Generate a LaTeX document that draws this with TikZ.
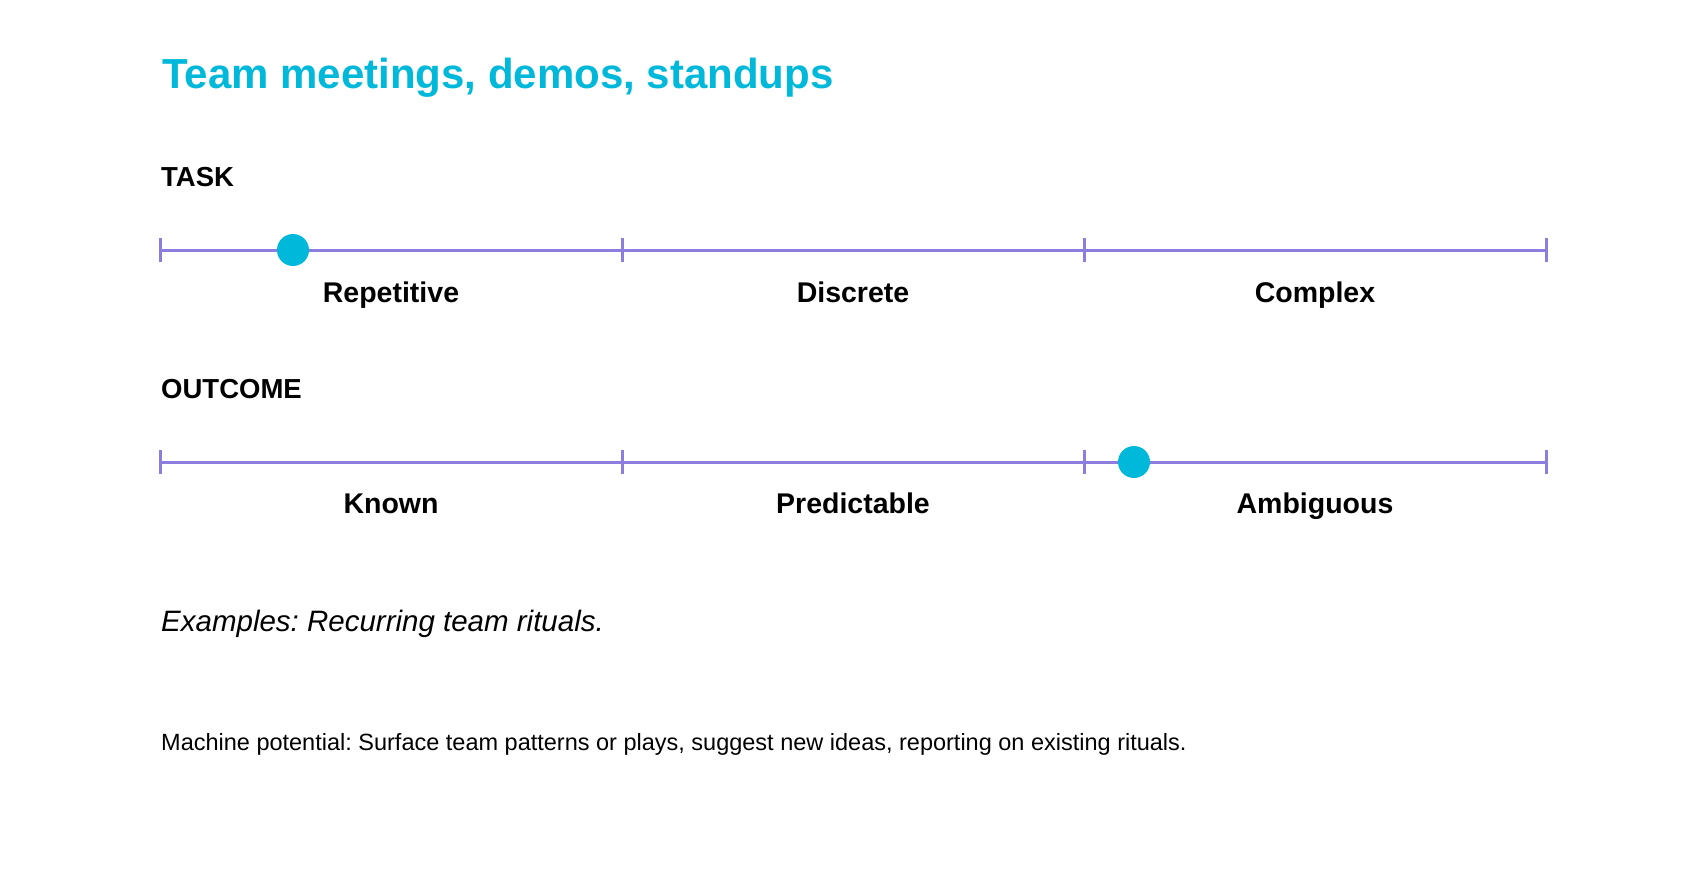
\documentclass[tikz,border=0pt]{standalone}
\usepackage{fontspec}
\setmainfont{Liberation Sans}
\usetikzlibrary{positioning}
\frenchspacing

\definecolor{headcyan}{HTML}{00B8D9}
\definecolor{scalepurple}{HTML}{8C7EDE}

\begin{document}
\begin{tikzpicture}[x=1pt, y=-1pt,
    scaleline/.style={draw=scalepurple, line width=3pt},
    scaletick/.style={draw=scalepurple, line width=3pt},
    scaledot/.style={circle, fill=headcyan, minimum size=32pt, inner sep=0pt},
    heading/.style={anchor=base west, inner sep=0pt, font=\fontsize{27.5}{32}\selectfont\bfseries},
    scalelabel/.style={anchor=base, inner sep=0pt, font=\fontsize{28.5}{34}\selectfont\bfseries}]
  \useasboundingbox (0,0) rectangle (1706,872);

  % titel
  \node[anchor=base west, inner sep=0pt, text=headcyan,
        font=\fontsize{42}{50}\selectfont\bfseries] (title) at (162,89) {Team meetings, demos, standups};

  % task scale
  \node[heading] (task) at (161,186) {TASK};
  \foreach \i/\x in {0/160,1/622,2/1084,3/1546}
    \coordinate (t\i) at (\x,250);
  \draw[scaleline] (t0) -- (t3);
  \foreach \i in {0,...,3}
    \draw[scaletick] (t\i) ++(0,-12) -- ++(0,24);
  \node[scaledot] (taskdot) at (293,250) {};
  \node[scalelabel] (repetitive) at (391,302) {Repetitive};
  \node[scalelabel] (discrete) at (853,302) {Discrete};
  \node[scalelabel] (complex) at (1315,302) {Complex};

  % outcome scale
  \node[heading] (outcome) at (161,398) {OUTCOME};
  \foreach \i/\x in {0/160,1/622,2/1084,3/1546}
    \coordinate (o\i) at (\x,462);
  \draw[scaleline] (o0) -- (o3);
  \foreach \i in {0,...,3}
    \draw[scaletick] (o\i) ++(0,-12) -- ++(0,24);
  \node[scaledot] (outcomedot) at (1134,462) {};
  \node[scalelabel] (known) at (391,513) {Known};
  \node[scalelabel] (predictable) at (853,513) {Predictable};
  \node[scalelabel] (ambiguous) at (1315,513) {Ambiguous};

  % notes
  \node[anchor=base west, inner sep=0pt, font=\fontsize{29.5}{35}\selectfont\itshape]
    (examples) at (161,631) {Examples: Recurring team rituals.};
  \node[anchor=base west, inner sep=0pt, font=\fontsize{23.5}{28}\selectfont]
    (machine) at (161,750) {Machine potential: Surface team patterns or plays, suggest new ideas, reporting on existing rituals.};
\end{tikzpicture}
\end{document}
